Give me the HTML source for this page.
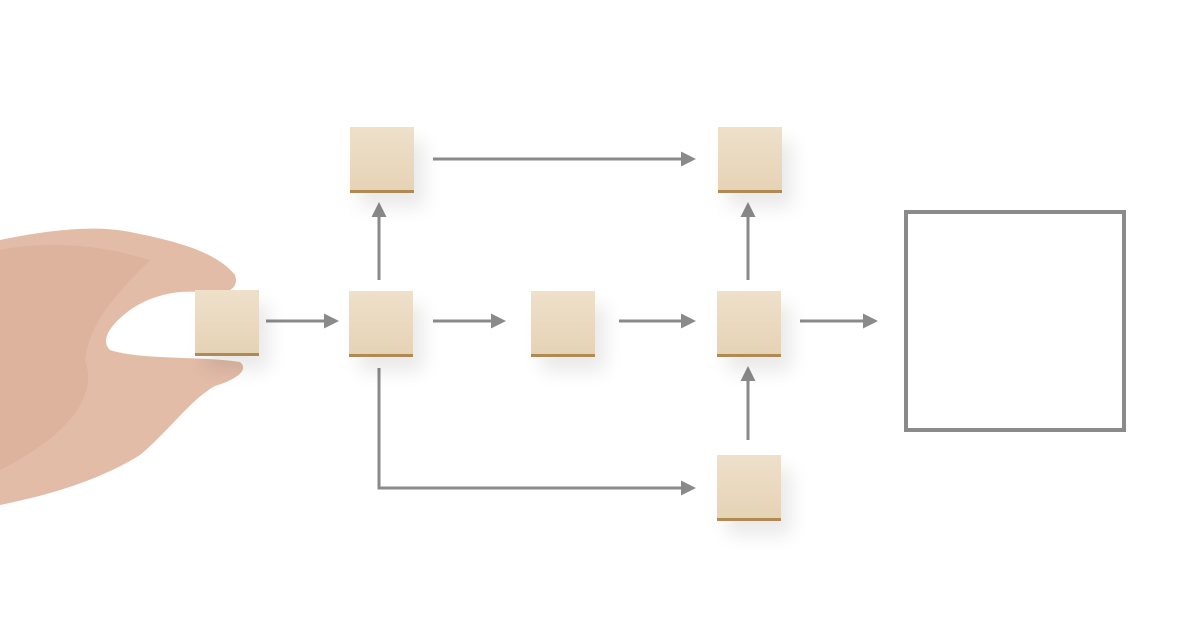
<!DOCTYPE html>
<html><head><style>
html,body{margin:0;padding:0;background:#fff;}
body{width:1200px;height:627px;overflow:hidden;position:relative;}
.b{position:absolute;width:64px;height:63px;background:linear-gradient(180deg,#eee0ca,#e6d3b6);border-bottom:3px solid #b08a55;box-shadow:10px 14px 18px rgba(0,0,0,0.09);}
</style></head><body>
<svg width="1200" height="627" style="position:absolute;left:0;top:0">
<defs><marker id="a" markerWidth="5" markerHeight="5" refX="4" refY="2.5" orient="auto" markerUnits="strokeWidth"><path d="M0,0 L5,2.5 L0,5 z" fill="#8a8a8a"/></marker></defs>
<g stroke="#8a8a8a" stroke-width="3" fill="none">
<line x1="266" y1="321" x2="336" y2="321" marker-end="url(#a)"/>
<line x1="433" y1="321" x2="503" y2="321" marker-end="url(#a)"/>
<line x1="619" y1="321" x2="693" y2="321" marker-end="url(#a)"/>
<line x1="800" y1="321" x2="875" y2="321" marker-end="url(#a)"/>
<line x1="433" y1="159" x2="693" y2="159" marker-end="url(#a)"/>
<line x1="379" y1="280" x2="379" y2="205" marker-end="url(#a)"/>
<polyline points="379,368 379,488 693,488" marker-end="url(#a)"/>
<line x1="748" y1="440" x2="748" y2="369" marker-end="url(#a)"/>
<line x1="748" y1="280" x2="748" y2="205" marker-end="url(#a)"/>
</g>
<rect x="906" y="212" width="218" height="218" fill="none" stroke="#8a8a8a" stroke-width="4"/>
<path d="M0,240 C40,232 90,224 130,232 C170,240 215,250 235,275 C240,290 225,296 200,292 C175,290 150,296 130,310 C110,325 100,340 110,350 C140,360 200,356 240,362 C250,370 235,380 215,386 C190,400 170,430 140,455 C100,480 50,495 0,505 Z" fill="#e3bca7"/>
<path d="M0,250 C50,240 100,245 150,260 C120,290 90,320 85,360 C100,400 60,440 0,470 Z" fill="#d9aa94" opacity="0.5"/>
</svg>
<div class="b" style="left:195px;top:290px"></div>
<div class="b" style="left:350px;top:127px"></div>
<div class="b" style="left:349px;top:291px"></div>
<div class="b" style="left:531px;top:291px"></div>
<div class="b" style="left:717px;top:291px"></div>
<div class="b" style="left:718px;top:127px"></div>
<div class="b" style="left:717px;top:455px"></div>
</body></html>
